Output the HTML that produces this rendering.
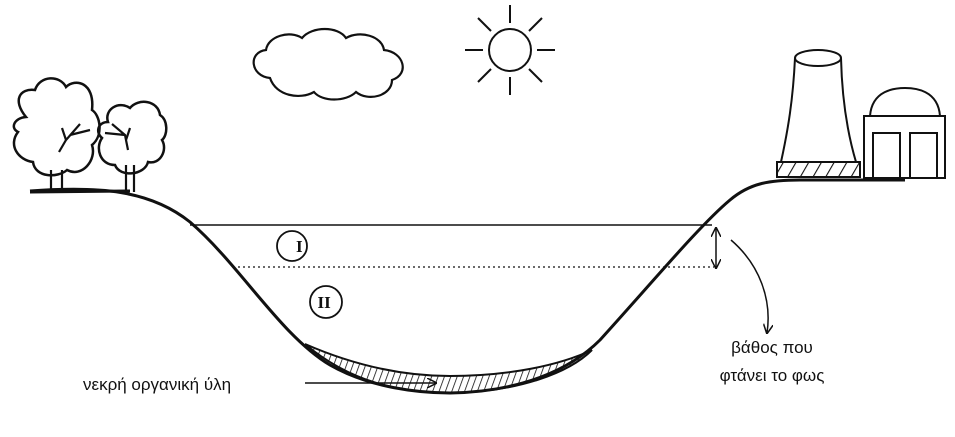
<!DOCTYPE html>
<html><head><meta charset="utf-8"><style>html,body{margin:0;padding:0;background:#fff}svg{display:block}</style></head>
<body>
<svg width="955" height="437" viewBox="0 0 955 437" xmlns="http://www.w3.org/2000/svg">
<defs>
<pattern id="h" width="6" height="6" patternUnits="userSpaceOnUse" patternTransform="rotate(20)">
<line x1="0" y1="0" x2="0" y2="6" stroke="#111" stroke-width="1.6"/></pattern>
<pattern id="h2" width="11" height="11" patternUnits="userSpaceOnUse" patternTransform="rotate(30)">
<line x1="0" y1="0" x2="0" y2="11" stroke="#111" stroke-width="2.2"/></pattern>
<marker id="a" markerWidth="10" markerHeight="10" refX="9" refY="5" orient="auto-start-reverse" markerUnits="userSpaceOnUse"><path d="M0,0 L10,5 L0,10" fill="none" stroke="#111" stroke-width="1.5"/></marker>
</defs>
<g fill="none" stroke="#111" stroke-width="2.5">
<path d="M305,344 C360,368 410,376 450,376 C510,376 560,365 592,350 C570,372 520,392 450,393 C400,393 350,382 305,344Z" fill="url(#h)" stroke-width="2"/>
<path d="M30,191 C100,186 150,190 190,222 C240,265 280,335 330,365 C370,388 420,393 450,393 C520,392 570,370 600,340 C650,285 700,225 730,200 C750,183 770,180 800,180 L905,180" stroke-width="3"/>
<line x1="190" y1="225" x2="712" y2="225" stroke-width="1.5"/>
<line x1="238" y1="267" x2="714" y2="267" stroke-width="1.3" stroke-dasharray="2,3"/>
<line x1="716" y1="228" x2="716" y2="268" stroke-width="1.5" marker-start="url(#a)" marker-end="url(#a)"/>
<path d="M731,240 C760,265 772,300 767,333" stroke-width="1.5" marker-end="url(#a)"/>
<circle cx="292" cy="246" r="15" stroke-width="1.8"/>
<circle cx="326" cy="302" r="16" stroke-width="1.8"/>
<line x1="305" y1="383" x2="436" y2="383" stroke-width="1.5" marker-end="url(#a)"/>
<circle cx="510" cy="50" r="21" stroke-width="2"/>
<g stroke-width="2">
<line x1="510" y1="5" x2="510" y2="23"/><line x1="510" y1="77" x2="510" y2="95"/>
<line x1="465" y1="50" x2="483" y2="50"/><line x1="537" y1="50" x2="555" y2="50"/>
<line x1="478" y1="18" x2="491" y2="31"/><line x1="529" y1="69" x2="542" y2="82"/>
<line x1="542" y1="18" x2="529" y2="31"/><line x1="491" y1="69" x2="478" y2="82"/>
</g>
<path d="M270,78 C250,76 248,52 266,50 C268,36 290,30 302,38 C312,26 338,26 346,38 C360,30 382,36 384,50 C404,52 410,74 392,80 C392,96 368,102 356,92 C346,102 322,102 314,92 C300,100 276,96 270,78Z" stroke-width="2.2"/>
<path d="M26,117 C12,100 20,88 35,90 C40,75 60,75 66,87 C75,78 95,82 92,110 C100,115 104,135 92,145 C97,160 82,178 67,170 C58,178 35,178 33,162 C18,160 8,145 18,132 C10,128 14,118 26,117Z" stroke-width="2.5"/>
<path d="M51,170 L51,190 M62,170 L62,190 M59,152 L66,140 L80,124 M66,140 L62,128 M70,135 L90,130" stroke-width="2.2"/>
<path d="M108,122 C104,110 118,100 130,108 C138,98 158,100 160,115 C168,120 168,135 162,140 C168,150 160,165 148,162 C145,175 120,178 115,165 C100,165 95,148 102,138 C95,132 98,122 108,122Z" stroke-width="2.5"/>
<path d="M126,165 L126,190 M134,165 L134,192 M128,150 L125,135 L112,124 M125,135 L105,133 M126,140 L130,128" stroke-width="2.2"/>
<line x1="30" y1="192" x2="130" y2="191" stroke-width="3"/>
<ellipse cx="818" cy="58" rx="23" ry="8" stroke-width="2"/>
<path d="M795,58 C793,100 788,130 781,162 M841,58 C842,100 848,135 856,162" stroke-width="2"/>
<rect x="777" y="162" width="83" height="15" fill="url(#h2)" stroke-width="2"/>
<rect x="864" y="116" width="81" height="62" stroke-width="2"/>
<path d="M870,116 C872,90 895,88 905,88 C915,88 938,90 940,116" stroke-width="2"/>
<rect x="873" y="133" width="27" height="45" stroke-width="2"/>
<rect x="910" y="133" width="27" height="45" stroke-width="2"/>
</g>
<g font-family="Liberation Sans, sans-serif" font-size="17" fill="#111">
<text x="296" y="252" font-family="Liberation Serif, serif" font-weight="bold" font-size="17">I</text>
<text x="317.5" y="308" font-family="Liberation Serif, serif" font-weight="bold" font-size="17">II</text>
<text x="772" y="353" text-anchor="middle">βάθος που</text>
<text x="772" y="381" text-anchor="middle">φτάνει το φως</text>
<text x="83" y="390">νεκρή οργανική ύλη</text>
</g>
</svg>
</body></html>
